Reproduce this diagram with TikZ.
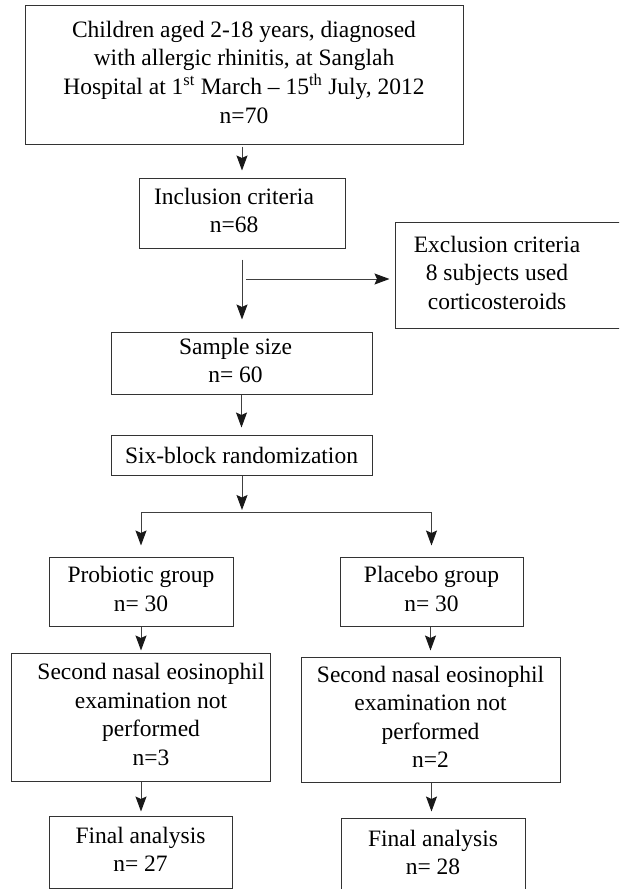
\documentclass[tikz,border=0pt]{standalone}
\usepackage{fontspec}
\setmainfont{Liberation Serif}
\usetikzlibrary{arrows.meta}
\usetikzlibrary{positioning}

\newcommand{\boxtext}[1]{\begin{tabular}{@{}c@{}}#1\end{tabular}}

\tikzset{
  box/.style={draw=black!80, line width=1pt, inner sep=0pt,
    font=\fontsize{23.5}{28.5}\selectfont},
  arr/.style={draw=black!75, line width=1pt,
    -{Stealth[length=15pt, width=11pt, inset=2.5pt, black!90]}},
}

\begin{document}
\begin{tikzpicture}[x=1pt, y=-1pt]
    \useasboundingbox (0,0) rectangle (619,889);
    \clip (0,0) rectangle (619,889);

    \node[box, minimum width=438pt, minimum height=139pt] (children) at (244, 74.5)
      {\boxtext{Children aged 2-18 years, diagnosed\\with allergic rhinitis, at Sanglah\\Hospital at 1\textsuperscript{st} March -- 15\textsuperscript{th} July, 2012\\n=70}};
    \node[box, minimum width=206pt, minimum height=70pt] (incl) at (242, 213)
      {\boxtext{Inclusion criteria\\n=68}\hspace*{16pt}};
    \node[box, minimum width=245pt, minimum height=106pt] (excl) at (517.5, 275)
      {\boxtext{Exclusion criteria\\8 subjects used\\corticosteroids}\hspace*{41pt}};
    \node[box, minimum width=261pt, minimum height=62pt] (sample) at (241.5, 363)
      {\boxtext{Sample size\\n= 60}\hspace*{12pt}};
    \node[box, minimum width=261pt, minimum height=40pt] (random) at (241.5, 455)
      {Six-block randomization};

    \node[box, minimum width=184pt, minimum height=69pt] (probiotic) at (141, 591.5)
      {\boxtext{Probiotic group\\n= 30}};
    \node[box, minimum width=183pt, minimum height=69pt] (placebo) at (431.5, 591.5)
      {\boxtext{Placebo group\\n= 30}};
    \node[box, minimum width=259pt, minimum height=128pt] (secondL) at (140.5, 717)
      {\hspace*{21pt}\boxtext{Second nasal eosinophil\\examination not\\performed\\n=3}};
    \node[box, minimum width=259pt, minimum height=125pt] (secondR) at (430.5, 719.5)
      {\boxtext{Second nasal eosinophil\\examination not\\performed\\n=2}};
    \node[box, minimum width=183pt, minimum height=72pt] (finalL) at (140.5, 852)
      {\boxtext{Final analysis\\n= 27}};
    \node[box, minimum width=184pt, minimum height=74pt] (finalR) at (433, 855)
      {\boxtext{Final analysis\\n= 28}};

    \coordinate (branch) at (242, 279);
    \coordinate (fork) at (242, 512);

    \draw[arr, shorten <=2pt, shorten >=7pt] (children.south -| incl.north) -- (incl.north);
    \draw[arr, shorten <=11pt, shorten >=12pt] (incl.south) -- (incl.south |- sample.north);
    \draw[arr, shorten <=4pt, shorten >=5pt] (branch) -- (branch -| excl.west);
    \draw[arr, shorten >=7pt] (sample.south) -- (sample.south |- random.north);
    \draw[arr, shorten >=2pt] (random.south -| fork) -- (fork);
    \draw[draw=black!75, line width=1pt] (probiotic.north |- fork) -- (placebo.north |- fork);
    \draw[arr, shorten >=11pt] (probiotic.north |- fork) -- (probiotic.north);
    \draw[arr, shorten >=11pt] (placebo.north |- fork) -- (placebo.north);
    \draw[arr, shorten >=2pt] (probiotic.south) -- (probiotic.south |- secondL.north);
    \draw[arr, shorten >=6pt] (placebo.south -| secondR.north) -- (secondR.north);
    \draw[arr, shorten >=4pt] (secondL.south -| probiotic.south) -- (probiotic.south |- finalL.north);
    \draw[arr, shorten >=6pt] (secondR.south -| placebo.south) -- (placebo.south |- finalR.north);
\end{tikzpicture}
\end{document}
